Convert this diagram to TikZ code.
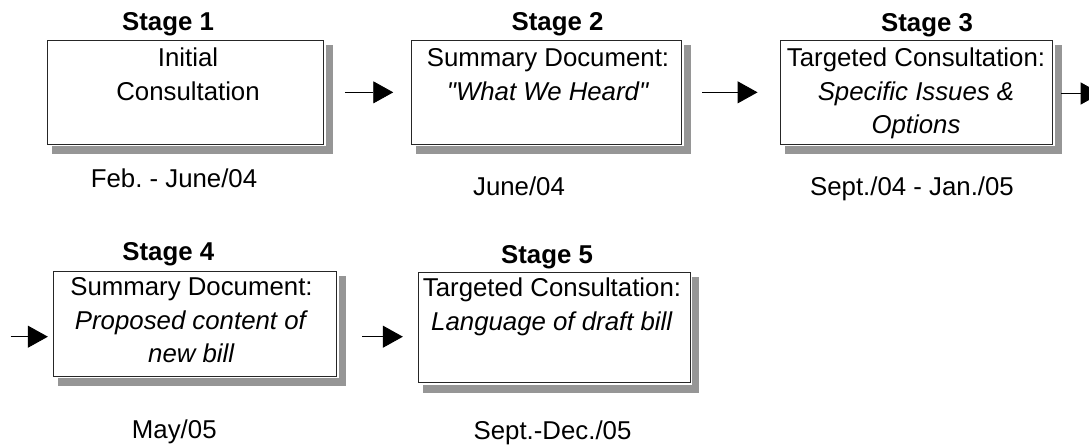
\documentclass[tikz,border=0pt]{standalone}
\usepackage{fontspec}
\setmainfont{Liberation Sans}
\usetikzlibrary{arrows.meta,backgrounds}

\begin{document}
\begin{tikzpicture}[x=1pt, y=-1pt,
		every node/.style={inner sep=0pt, font=\fontsize{25.8}{33.5}\selectfont},
		stagebox/.style={draw=black!85, line width=0.9pt, fill=white, rectangle},
		stagetitle/.style={anchor=base, font=\fontsize{25.8}{33.5}\selectfont\bfseries},
		stagetext/.style={anchor=base, align=center},
		stagedate/.style={anchor=base},
		flow/.style={line width=0.9pt, -{Triangle[length=20pt, width=22pt]}}]
	%%%%% START %%%%%
	
	\useasboundingbox (0, 0) rectangle (1089, 445);
	\clip (0, 0) rectangle (1089, 445);
	
	\node[stagebox, minimum width=275.6pt, minimum height=103.3pt] (s1) at (185.5, 92.35) {};
	\node[stagebox, minimum width=270pt, minimum height=103.3pt] (s2) at (546.7, 92.35) {};
	\node[stagebox, minimum width=271.6pt, minimum height=103.3pt] (s3) at (916.5, 92.35) {};
	\node[stagebox, minimum width=283.4pt, minimum height=104.3pt] (s4) at (195, 323.85) {};
	\node[stagebox, minimum width=271.7pt, minimum height=110pt] (s5) at (554.15, 327.7) {};
	
	\begin{pgfonlayer}{background}
		\foreach \s in {s1, s2, s3, s4, s5} {
			\fill[black!41] ([shift={(5, 5)}]\s.north west) rectangle ([shift={(9, 9.5)}]\s.south east);
			\fill[white] ([shift={(-2, -2)}]\s.north west) rectangle ([shift={(2, 2)}]\s.south east);
		}
	\end{pgfonlayer}
	
	% text nodes sit on the baseline of their last line
	\node[stagetitle] (t1) at (168, 30.7) {Stage 1};
	\node[stagetext] (b1) at (188, 100.2) {Initial\\Consultation};
	\node[stagedate] (d1) at (174, 187) {Feb.\ - June/04};
	
	\node[stagetitle] (t2) at (557.5, 30.7) {Stage 2};
	\node[stagetext] (b2) at (548, 100.2) {Summary Document:\\\textit{\textquotedbl What We Heard\textquotedbl}};
	\node[stagedate] (d2) at (519, 195) {June/04};
	
	\node[stagetitle] (t3) at (927, 31.7) {Stage 3};
	\node[stagetext] (b3) at (916, 133.7) {Targeted Consultation:\\\textit{Specific Issues \&}\\\textit{Options}};
	\node[stagedate] (d3) at (912, 195) {Sept./04 - Jan./05};
	
	\node[stagetitle] (t4) at (168.3, 260.5) {Stage 4};
	\node[stagetext] (b4) at (191.5, 362.7) {Summary Document:\\\textit{Proposed content of}\\\textit{new bill}};
	\node[stagedate] (d4) at (174.3, 438) {May/05};
	
	\node[stagetitle] (t5) at (547, 263.3) {Stage 5};
	\node[stagetext] (b5) at (552, 330.2) {Targeted Consultation:\\\textit{Language of draft bill}};
	\node[stagedate] (d5) at (552.5, 439) {Sept.-Dec./05};
	
	\draw[flow, shorten <=21pt, shorten >=18pt] (s1.east) -- (s2.west);
	\draw[flow, shorten <=20pt, shorten >=22.7pt] (s2.east) -- (s3.west);
	\coordinate (out3) at (1100.7, 93.5);
	\draw[flow, shorten <=8.4pt] (s3.east |- out3) -- (out3);
	
	\coordinate (in4) at (10.7, 336.7);
	\draw[flow, shorten >=5pt] (in4) -- (in4 -| s4.west);
	\draw[flow, shorten <=25pt, shorten >=15pt] (s4.east |- in4) -- (s5.west |- in4);
	
	%%%%% END %%%%%
\end{tikzpicture}
\end{document}
